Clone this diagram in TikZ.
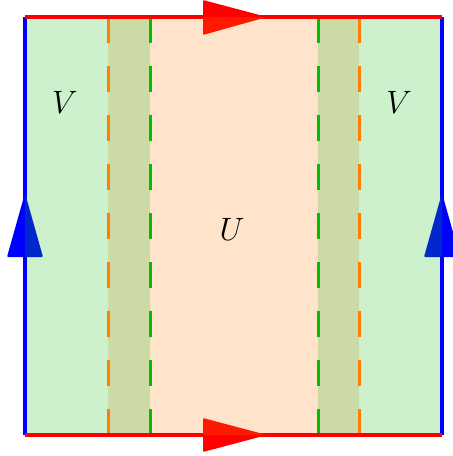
\documentclass[tikz,border=0pt]{standalone}
\definecolor{gfill}{RGB}{205,240,205}
\definecolor{pfill}{RGB}{255,228,203}
\definecolor{mfill}{RGB}{204,219,165}
\definecolor{odash}{RGB}{255,128,0}
\definecolor{gdash}{RGB}{0,190,0}
\definecolor{redA}{RGB}{255,0,0}
\definecolor{redB}{RGB}{255,25,0}
\definecolor{blueA}{RGB}{0,0,255}
\definecolor{blueB}{RGB}{0,40,205}
\begin{document}
\begin{tikzpicture}[x=1pt,y=-1pt,
  orangedash/.style={draw=odash,line width=3,dash pattern=on 26 off 23},
  greendash/.style={draw=gdash,line width=3,dash pattern=on 26 off 23},
  redline/.style={draw=redA,line width=3.5},
  blueline/.style={draw=blueA,line width=3.5},
  lab/.style={font=\Huge,scale=1.3}]
\useasboundingbox (0,0) rectangle (453,456);
\clip (0,0) rectangle (453,456);
% fills
\fill[gfill] (25,17) rectangle (108,435);
\fill[mfill] (108,17) rectangle (150,435);
\fill[pfill] (150,17) rectangle (318,435);
\fill[mfill] (318,17) rectangle (359,435);
\fill[gfill] (359,17) rectangle (442,435);
% dashed lines
\coordinate (o1t) at (108,17); \coordinate (o1b) at (108,435);
\coordinate (g1t) at (150,17); \coordinate (g1b) at (150,435);
\coordinate (g2t) at (318,17); \coordinate (g2b) at (318,435);
\coordinate (o2t) at (359,17); \coordinate (o2b) at (359,435);
\draw[orangedash] (o1t) -- (o1b);
\draw[orangedash] (o2t) -- (o2b);
\draw[greendash] (g1t) -- (g1b);
\draw[greendash] (g2t) -- (g2b);
% corners
\coordinate (tl) at (25,17); \coordinate (tr) at (442,17);
\coordinate (bl) at (25,435); \coordinate (br) at (442,435);
\draw[blueline] (bl) -- (tl);
\draw[blueline] (br) -- (tr);
\draw[redline] (tl) -- (tr);
\draw[redline] (bl) -- (br);
% red arrowheads
\fill[redA,rounded corners=1] (203,17) -- (203,0) -- (267,17) -- cycle;
\fill[redB,rounded corners=1] (203,17) -- (203,35) -- (267,17) -- cycle;
\fill[redA,rounded corners=1] (203,435) -- (203,452) -- (267,435) -- cycle;
\fill[redB,rounded corners=1] (203,435) -- (203,418) -- (267,435) -- cycle;
% blue arrowheads
\fill[blueA,rounded corners=1] (25,257) -- (7,257) -- (25,193) -- cycle;
\fill[blueB,rounded corners=1] (25,257) -- (43,257) -- (25,193) -- cycle;
\fill[blueB,rounded corners=1] (442,257) -- (424,257) -- (442,193) -- cycle;
\fill[blueA,rounded corners=1] (442,257) -- (460,257) -- (442,193) -- cycle;
% labels
\node[lab] (v1) at (65,102) {$V$};
\node[lab] (v2) at (399,102) {$V$};
\node[lab] (u) at (232,229) {$U$};
\end{tikzpicture}
\end{document}
